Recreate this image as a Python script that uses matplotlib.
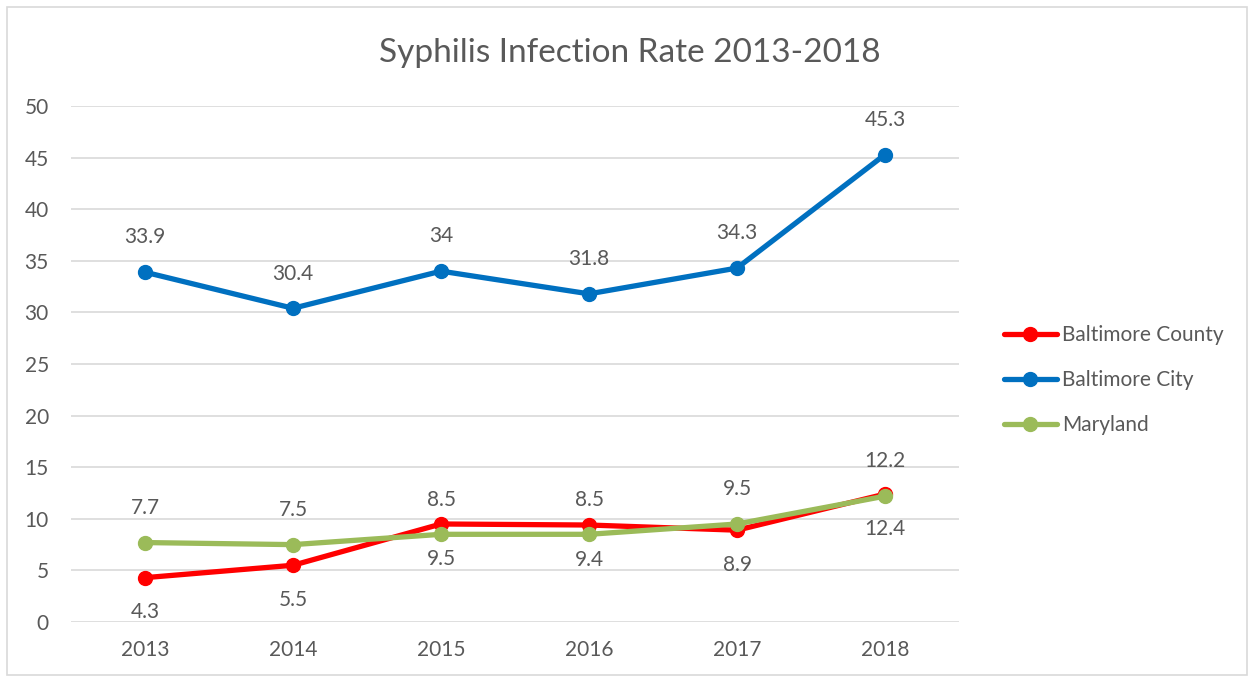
import matplotlib
matplotlib.use("Agg")
import matplotlib.pyplot as plt
from matplotlib.patches import Rectangle
from matplotlib.lines import Line2D

years = ["2013", "2014", "2015", "2016", "2017", "2018"]
baltimore_county = [4.3, 5.5, 9.5, 9.4, 8.9, 12.4]
baltimore_city = [33.9, 30.4, 34, 31.8, 34.3, 45.3]
maryland = [7.7, 7.5, 8.5, 8.5, 9.5, 12.2]
y_ticks = [0, 5, 10, 15, 20, 25, 30, 35, 40, 45, 50]

plt.rcParams["font.family"] = ["Lato", "DejaVu Sans"]
text_color = "#595959"

fig = plt.figure(figsize=(12.53, 6.77), dpi=100)
fig.patches.append(Rectangle((0.0056, 0.003), 0.99, 0.986, transform=fig.transFigure,
                             fill=False, edgecolor="#d9d9d9", linewidth=1.2))
ax = fig.add_axes([0.0567, 0.0812, 0.7087, 0.7622])

x = list(range(len(years)))
series = [
    ("Baltimore County", baltimore_county, "#ff0000", "below"),
    ("Baltimore City", baltimore_city, "#0070c0", "above"),
    ("Maryland", maryland, "#9bbb59", "above"),
]

for name, vals, color, pos in series:
    ax.plot(x, vals, color=color, linewidth=3.8, marker="o", markersize=10,
            solid_capstyle="round", label=name, zorder=3)
    for xi, v in zip(x, vals):
        dy = 25 if pos == "above" else -25
        ax.annotate(f"{v:g}", (xi, v), xytext=(0, dy), textcoords="offset points",
                    ha="center", va="center", fontsize=15, color=text_color, zorder=4)

ax.set_xlim(-0.5, len(years) - 0.5)
ax.set_ylim(0, 50)
ax.set_yticks(y_ticks)
ax.set_xticks(x)
ax.set_xticklabels(years)
ax.grid(axis="y", color="#d9d9d9", linewidth=1.2, zorder=0)
ax.set_axisbelow(True)
for s in ax.spines.values():
    s.set_visible(False)
ax.tick_params(length=0, labelsize=15, labelcolor=text_color)
ax.tick_params(axis="y", pad=16)
ax.tick_params(axis="x", pad=13)

fig.text(0.503, 0.922, "Syphilis Infection Rate 2013-2018", ha="center", va="center",
         fontsize=24, color=text_color)

handles = [Line2D([0], [0], color=c, linewidth=3.8, marker="o", markersize=10,
                  solid_capstyle="round") for _, _, c, _ in series]
fig.legend(handles, [n for n, _, _, _ in series], loc="center left",
           bbox_to_anchor=(0.786, 0.438), frameon=False, fontsize=15,
           labelcolor=text_color, handlelength=2.55, handletextpad=0.25,
           labelspacing=1.2)

fig.savefig("out.png", dpi=100)
